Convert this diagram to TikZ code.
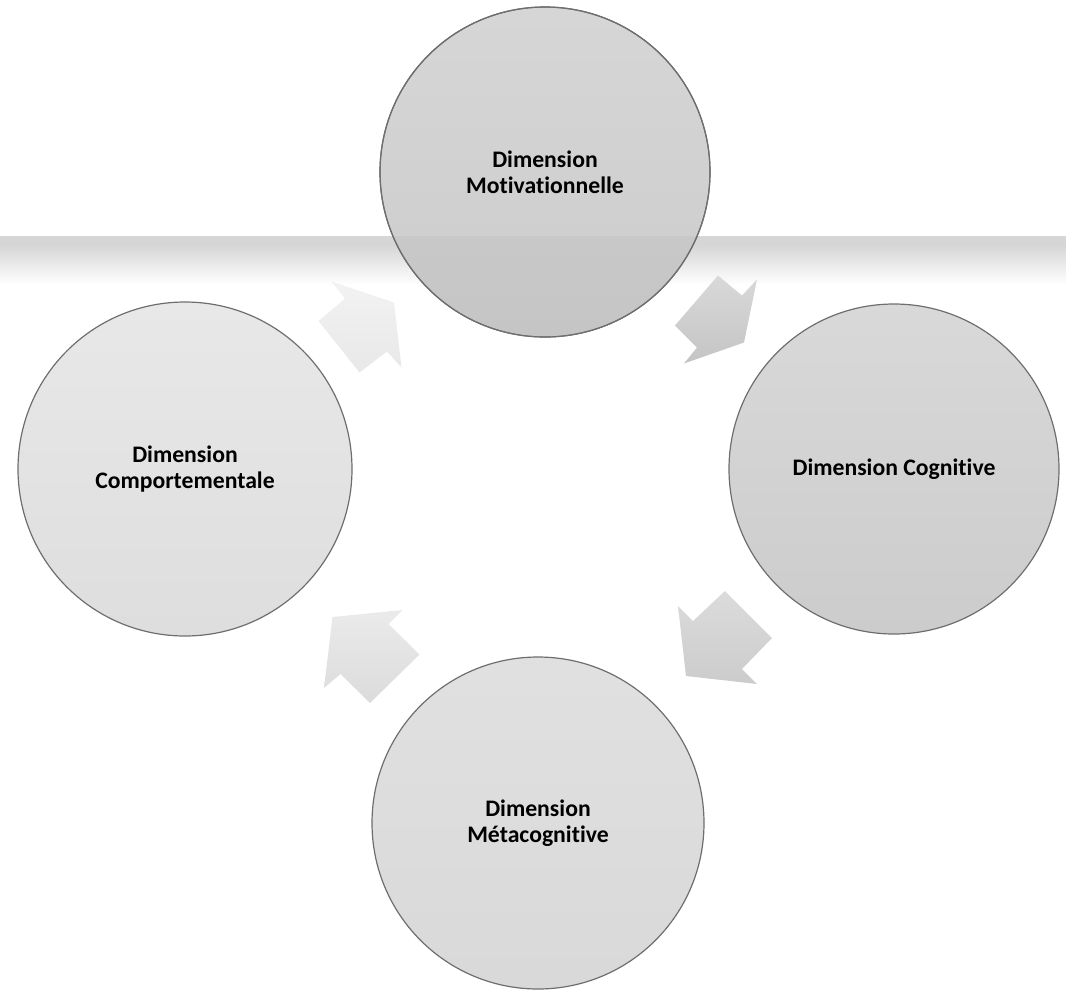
\documentclass[tikz,border=0pt]{standalone}
\usepackage{fontspec}
\setmainfont{Carlito}[Ligatures=NoCommon, RawFeature={-liga}]
\usetikzlibrary{calc}
\definecolor{bandgray}{HTML}{D6D6D6}
\definecolor{rimgray}{HTML}{6E6E6E}
\begin{document}
\begin{tikzpicture}[x=1pt,y=-1pt,
  dim/.style={circle, draw=rimgray, line width=1.2pt, minimum size=330pt,
    inner sep=0pt, align=center, text=black,
    font=\bfseries\fontsize{23.7}{26}\selectfont},
  cyclearrow/.style={draw=none}]
\useasboundingbox (0,0) rectangle (1066,989);

% horizontal fading band behind the top circle
\fill[bandgray] (0,236) rectangle (1066,245);
\shade[top color=bandgray, bottom color=white] (0,245) rectangle (1066,285);

% the four dimensions
\node[dim, top color=black!16, bottom color=black!20] (top) at (545,172) {Dimension\\Motivationnelle};
\node[dim, top color=black!15, bottom color=black!20] (right) at (894,469) {Dimension Cognitive};
\node[dim, top color=black!12, bottom color=black!15, minimum size=332pt] (bottom) at (538,823) {Dimension\\Métacognitive};
\node[dim, top color=black!9, bottom color=black!13, minimum size=334pt] (left) at (185,469) {Dimension\\Comportementale};

% band showing faintly through the lower part of the top circle
\begin{scope}
  \clip (top) circle (164pt);
  \fill[black, opacity=0.03] (0,236) rectangle (1066,345);
\end{scope}
\draw[rimgray, line width=1.2pt] (top) circle (165pt);

% block arrows of the cycle, centred between neighbouring circles
\coordinate (m1) at ($(top)!0.5!(right)$);
\coordinate (m2) at ($(right)!0.5!(bottom)$);
\coordinate (m3) at ($(bottom)!0.5!(left)$);
\coordinate (m4) at ($(left)!0.5!(top)$);

\shade[cyclearrow, top color=black!15, bottom color=black!23]
  ($(m1)+(-1.5,-45)$) -- ($(m1)+(22.5,-25)$) -- ($(m1)+(37.5,-41)$) --
  ($(m1)+(24.5,22)$) -- ($(m1)+(-35.5,43)$) -- ($(m1)+(-22.5,27)$) --
  ($(m1)+(-44.5,5)$) -- cycle;

\shade[cyclearrow, top color=black!14, bottom color=black!20]
  ($(m2)+(9,-55)$) -- ($(m2)+(56,-8)$) -- ($(m2)+(26,23)$) --
  ($(m2)+(41,38)$) -- ($(m2)+(-30,30)$) -- ($(m2)+(-38,-40)$) --
  ($(m2)+(-23,-25)$) -- cycle;

\shade[cyclearrow, top color=black!8, bottom color=black!14]
  ($(m3)+(41,-36)$) -- ($(m3)+(27,-22)$) -- ($(m3)+(58,8.5)$) --
  ($(m3)+(8.5,57)$) -- ($(m3)+(-21,28)$) -- ($(m3)+(-37.5,42)$) --
  ($(m3)+(-29,-29)$) -- cycle;

\shade[cyclearrow, top color=black!5, bottom color=black!9]
  ($(m4)+(-33.5,-39)$) -- ($(m4)+(-20,-22)$) -- ($(m4)+(-46.5,0.5)$) --
  ($(m4)+(-5.5,52)$) -- ($(m4)+(22,31)$) -- ($(m4)+(36.5,47)$) --
  ($(m4)+(29,-18)$) -- cycle;
\end{tikzpicture}
\end{document}
